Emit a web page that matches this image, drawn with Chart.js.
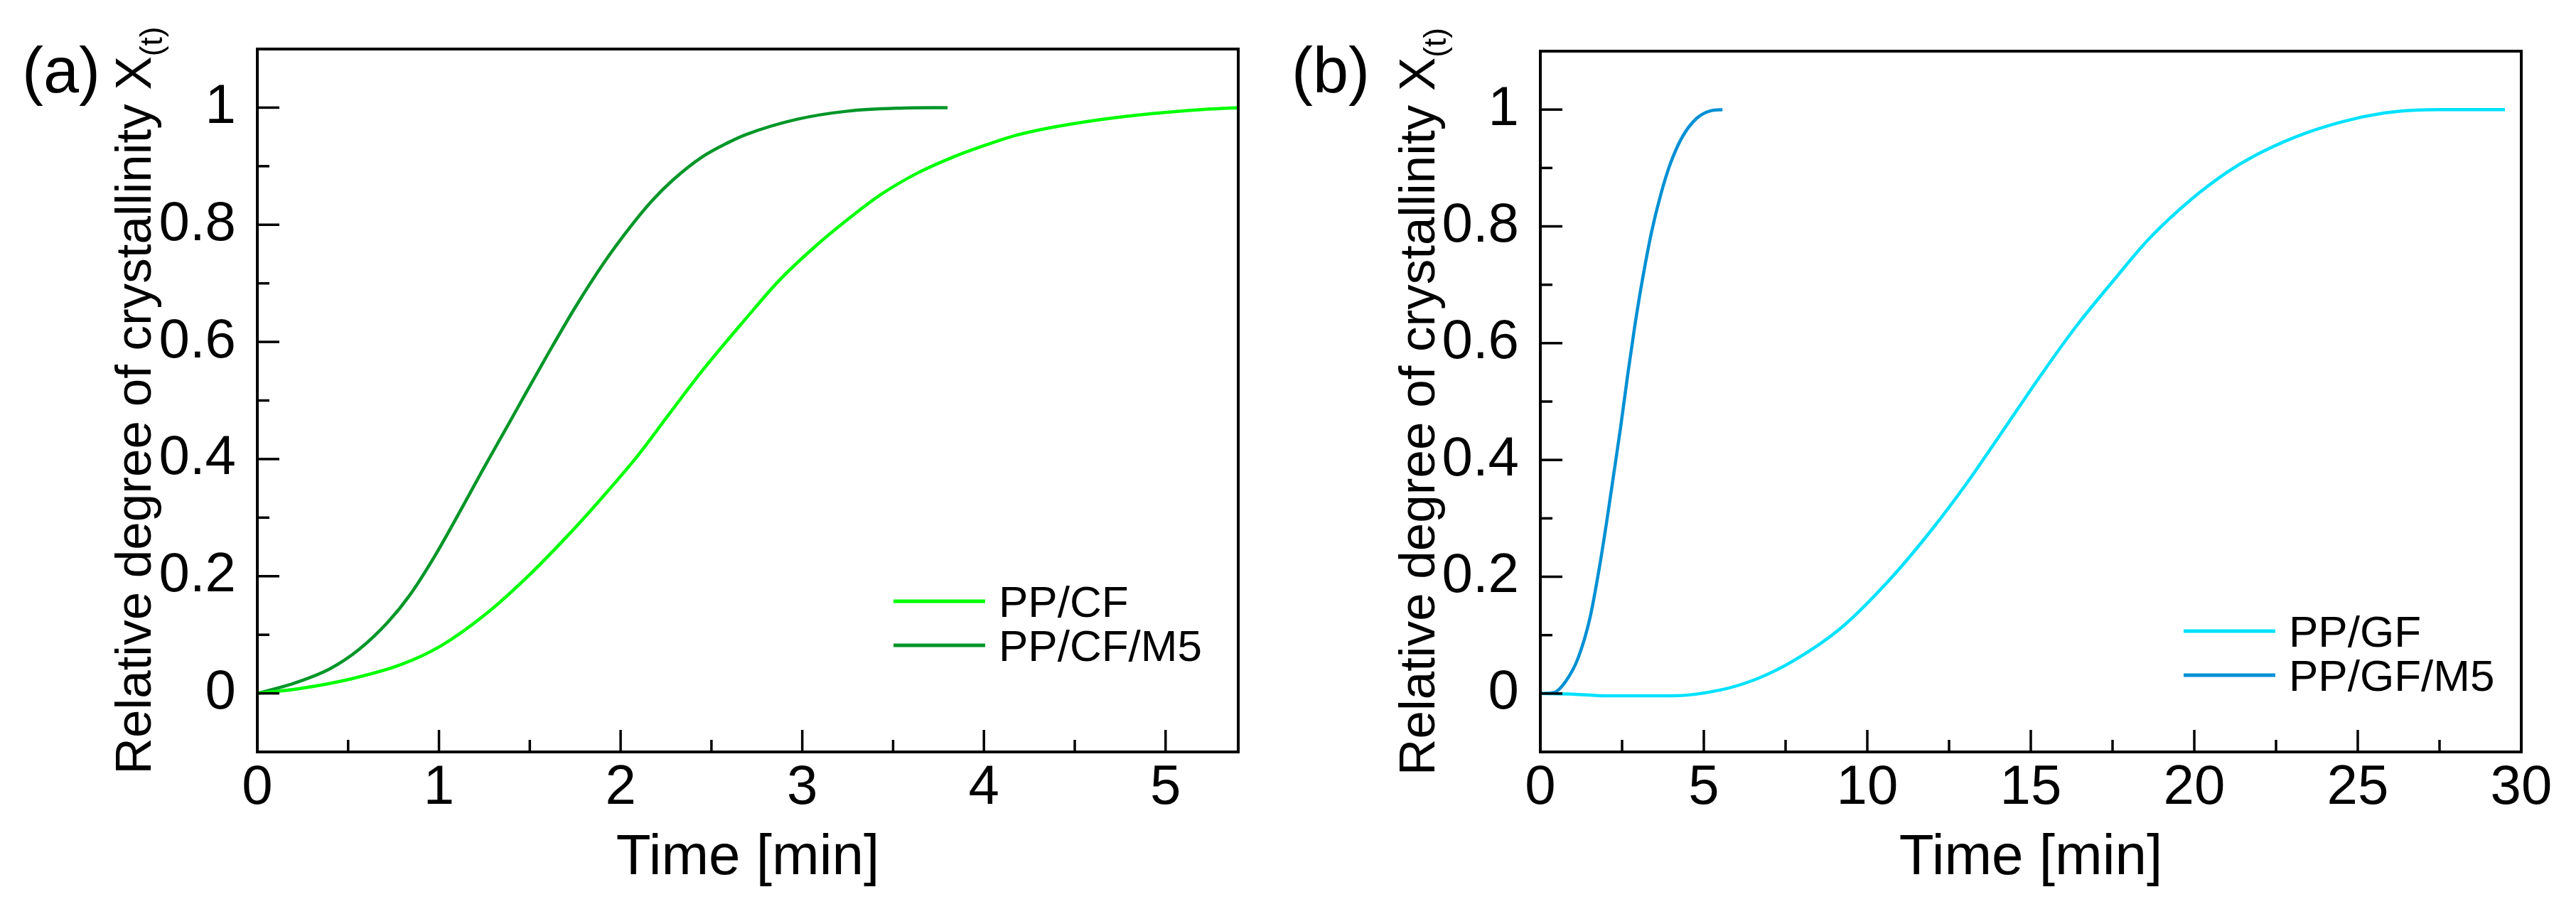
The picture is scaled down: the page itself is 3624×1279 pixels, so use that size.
<!DOCTYPE html>
<html lang="en">

<head>
    <meta charset="UTF-8" />
    <title>Relative degree of crystallinity</title>
    <script src="https://cdn.jsdelivr.net/npm/chart.js"></script>
    <style>
        html, body { margin: 0; padding: 0; background: #fff; }
        .painel { position: absolute; top: 0; width: 1812px; height: 1279px; }
        #painel_a { left: 0; }
        #painel_b { left: 1812px; }
    </style>
</head>

<body>
    <div class="painel" id="painel_a"><canvas id="grafico_a"></canvas></div>
    <div class="painel" id="painel_b"><canvas id="grafico_b"></canvas></div>
</body>

<script>

    // (a) PP/CF e PP/CF/M5
    var tempo_cf = [0, 0.23, 0.52, 0.79, 1.01, 1.26, 1.50, 1.75, 1.92, 2.10, 2.27, 2.45, 2.69, 2.87, 3.06, 3.25, 3.43, 3.62, 3.81, 4.00, 4.18, 4.37, 4.65, 4.93, 5.21, 5.40]
    var xt_cf = [0, 0.008, 0.025, 0.049, 0.081, 0.136, 0.203, 0.283, 0.342, 0.408, 0.478, 0.551, 0.640, 0.704, 0.760, 0.809, 0.851, 0.886, 0.913, 0.935, 0.953, 0.966, 0.980, 0.990, 0.997, 1.0]

    var tempo_cf_m5 = [0, 0.18, 0.40, 0.56, 0.72, 0.84, 0.98, 1.12, 1.24, 1.38, 1.47, 1.59, 1.75, 1.91, 2.05, 2.17, 2.29, 2.45, 2.59, 2.69, 2.97, 3.25, 3.53, 3.80]
    var xt_cf_m5 = [0, 0.015, 0.042, 0.075, 0.122, 0.168, 0.236, 0.313, 0.381, 0.458, 0.508, 0.574, 0.659, 0.736, 0.795, 0.840, 0.877, 0.916, 0.940, 0.954, 0.980, 0.994, 0.999, 1.0]

    // (b) PP/GF e PP/GF/M5
    var tempo_gf = [0, 1.0, 2.0, 4.0, 5.5, 6.66, 7.8, 9.21, 10.65, 11.92, 13.04, 14.16, 15.27, 16.39, 17.51, 18.62, 19.90, 21.01, 21.81, 23.09, 24.52, 25.8, 26.76, 27.5, 29.5]
    var xt_gf = [0, -0.001, -0.004, -0.004, 0.006, 0.026, 0.058, 0.113, 0.193, 0.277, 0.360, 0.451, 0.542, 0.629, 0.706, 0.779, 0.846, 0.893, 0.920, 0.953, 0.979, 0.994, 0.999, 1.0, 1.0]

    var tempo_gf_m5 = [0, 0.43, 0.79, 1.15, 1.52, 1.80, 2.02, 2.24, 2.46, 2.67, 2.89, 3.11, 3.40, 3.69, 3.98, 4.34, 4.78, 5.21, 5.57]
    var xt_gf_m5 = [0, 0.002, 0.022, 0.060, 0.130, 0.214, 0.291, 0.374, 0.458, 0.545, 0.630, 0.705, 0.790, 0.856, 0.908, 0.953, 0.985, 0.998, 1.0]

    // eixos
    var y_ticks = [0, 0.2, 0.4, 0.6, 0.8, 1]
    var y_rotulos = ['0', '0.2', '0.4', '0.6', '0.8', '1']
    var y_menores = [0.1, 0.3, 0.5, 0.7, 0.9]

    var x_ticks_a = [0, 1, 2, 3, 4, 5]
    var x_menores_a = [0.5, 1.5, 2.5, 3.5, 4.5]
    var x_ticks_b = [0, 5, 10, 15, 20, 25, 30]
    var x_menores_b = [2.5, 7.5, 12.5, 17.5, 22.5, 27.5]

    var fonte = "'Liberation Sans', Arial, sans-serif"

    function pontos(xs, ys) {
        var lista = []
        for (i = 0; i < xs.length; i++) {
            lista.push({ x: xs[i], y: ys[i] })
        }
        return lista
    }

    function linha(ctx, x1, y1, x2, y2) {
        ctx.beginPath()
        ctx.moveTo(x1, y1)
        ctx.lineTo(x2, y2)
        ctx.stroke()
    }

    // moldura, ticks para dentro, legenda, letra do painel e titulo do eixo y
    const extrasPlugin = {
        id: 'extras',
        afterDatasetsDraw(chart, args, op) {
            const ctx = chart.ctx
            const area = chart.chartArea
            const sx = chart.scales.x
            const sy = chart.scales.y
            ctx.save()
            ctx.strokeStyle = '#000'
            ctx.lineWidth = 3.5
            op.xMaior.forEach(v => {
                var px = sx.getPixelForValue(v)
                linha(ctx, px, area.bottom, px, area.bottom - 31)
            })
            op.xMenor.forEach(v => {
                var px = sx.getPixelForValue(v)
                linha(ctx, px, area.bottom, px, area.bottom - 17)
            })
            y_ticks.forEach(v => {
                var py = sy.getPixelForValue(v)
                linha(ctx, area.left, py, area.left + 31, py)
            })
            y_menores.forEach(v => {
                var py = sy.getPixelForValue(v)
                linha(ctx, area.left, py, area.left + 17, py)
            })
            ctx.lineWidth = 4
            ctx.strokeRect(area.left, area.top, area.right - area.left, area.bottom - area.top)

            // legenda
            ctx.textBaseline = 'alphabetic'
            ctx.textAlign = 'left'
            chart.data.datasets.forEach((ds, i) => {
                var y = op.legendaY + i * 62
                ctx.strokeStyle = ds.borderColor
                ctx.lineWidth = 5
                linha(ctx, op.legendaX, y, op.legendaX + 129, y)
                ctx.fillStyle = '#000'
                ctx.font = '62px ' + fonte
                ctx.fillText(ds.label, op.legendaX + 148, y + 22)
            })

            // (a) / (b)
            ctx.fillStyle = '#000'
            ctx.font = '90px ' + fonte
            ctx.fillText(op.letra, op.letraX, 130)

            // titulo y com subscrito
            ctx.translate(op.tituloX, (area.top + area.bottom) / 2)
            ctx.rotate(-Math.PI / 2)
            var principal = 'Relative degree of crystallinity X'
            ctx.font = '71px ' + fonte
            var w1 = ctx.measureText(principal).width
            ctx.font = '44px ' + fonte
            var w2 = ctx.measureText('(t)').width
            var inicio = -(w1 + w2) / 2
            ctx.font = '71px ' + fonte
            ctx.fillText(principal, inicio, 0)
            ctx.font = '44px ' + fonte
            ctx.fillText('(t)', inicio + w1, 16)
            ctx.restore()
        }
    }

    function criarGrafico(idCanvas, series, xMax, xTicks, xMenores, esquerda, direita, topo, extras) {
        new Chart(document.getElementById(idCanvas), {
            type: 'line',
            data: {
                datasets: series.map(s => ({
                    label: s.nome,
                    data: s.dados,
                    borderColor: s.cor,
                    backgroundColor: s.cor,
                    borderWidth: 4.5,
                    pointRadius: 0,
                    fill: false,
                    cubicInterpolationMode: 'monotone'
                }))
            },
            options: {
                responsive: true,
                maintainAspectRatio: false,
                animation: false,
                layout: { padding: { top: topo, right: 1812 - direita, left: 0, bottom: 0 } },
                plugins: {
                    legend: { display: false },
                    tooltip: { enabled: false },
                    extras: extras
                },
                scales: {
                    x: {
                        type: 'linear',
                        min: 0,
                        max: xMax,
                        grid: { display: false },
                        border: { display: false },
                        afterBuildTicks: function (s) { s.ticks = xTicks.map(v => ({ value: v })) },
                        afterFit: function (s) { s.height = 1279 - 1058 },
                        ticks: {
                            color: '#000',
                            autoSkip: false,
                            maxRotation: 0,
                            padding: 4,
                            font: { family: fonte, size: 78, lineHeight: 1 },
                            callback: function (v) { return String(v) }
                        },
                        title: {
                            display: true,
                            text: 'Time [min]',
                            color: '#000',
                            font: { family: fonte, size: 80, lineHeight: 1.2 },
                            padding: { top: 0, bottom: 23 }
                        }
                    },
                    y: {
                        type: 'linear',
                        min: -0.1,
                        max: 1.1,
                        grid: { display: false },
                        border: { display: false },
                        afterBuildTicks: function (s) { s.ticks = y_ticks.map(v => ({ value: v })) },
                        afterFit: function (s) { s.width = esquerda },
                        ticks: {
                            color: '#000',
                            autoSkip: false,
                            padding: 22,
                            font: { family: fonte, size: 78, lineHeight: 1 },
                            callback: function (v, i) { return y_rotulos[i] }
                        }
                    }
                }
            },
            plugins: [extrasPlugin]
        })
    }

    criarGrafico('grafico_a', [
        { nome: 'PP/CF', dados: pontos(tempo_cf, xt_cf), cor: '#00ff00' },
        { nome: 'PP/CF/M5', dados: pontos(tempo_cf_m5, xt_cf_m5), cor: '#009628' }
    ], 5.4, x_ticks_a, x_menores_a, 362, 1742, 69,
        { xMaior: x_ticks_a, xMenor: x_menores_a, legendaX: 1257, legendaY: 846, letra: '(a)', letraX: 31, tituloX: 212 })

    criarGrafico('grafico_b', [
        { nome: 'PP/GF', dados: pontos(tempo_gf, xt_gf), cor: '#00e1ff' },
        { nome: 'PP/GF/M5', dados: pontos(tempo_gf_m5, xt_gf_m5), cor: '#0090d4' }
    ], 30, x_ticks_b, x_menores_b, 355, 1735, 72,
        { xMaior: x_ticks_b, xMenor: x_menores_b, legendaX: 1260, legendaY: 888, letra: '(b)', letraX: 5, tituloX: 206 })

</script>

</html>
